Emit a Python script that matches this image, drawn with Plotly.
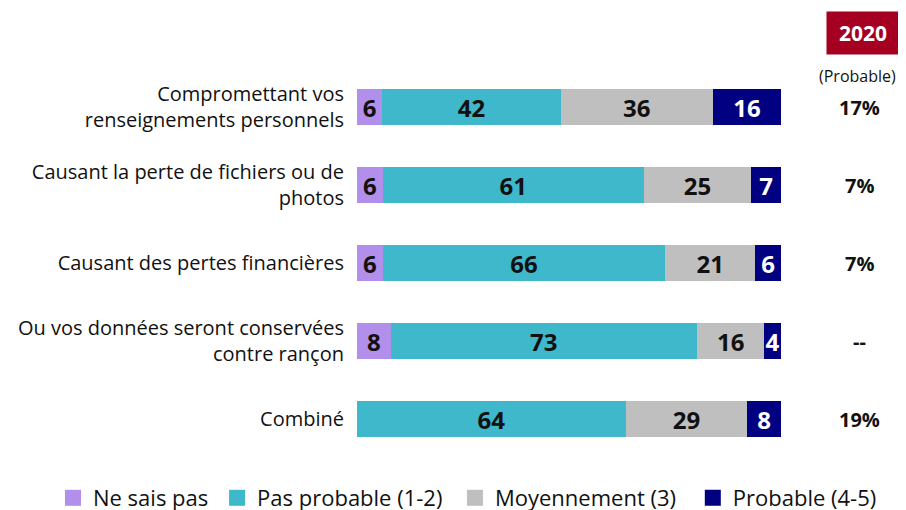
import plotly.graph_objects as go

categories = [
    "Compromettant vos<br>renseignements personnels",
    "Causant la perte de fichiers ou de<br>photos",
    "Causant des pertes financières",
    "Ou vos données seront conservées<br>contre rançon",
    "Combiné",
]
series_names = ["Ne sais pas", "Pas probable (1-2)", "Moyennement (3)", "Probable (4-5)"]
ne_sais_pas = [6, 6, 6, 8, 0]
pas_probable = [42, 61, 66, 73, 64]
moyennement = [36, 25, 21, 16, 29]
probable = [16, 7, 6, 4, 8]
probable_2020 = ["17%", "7%", "7%", "--", "19%"]
header_year = "2020"
header_sub = "(Probable)"

colors = ["#b28fea", "#3fb8cc", "#bfbfbf", "#000080"]
text_colors = ["#111111", "#111111", "#111111", "#ffffff"]
FONT = "Open Sans, Liberation Sans, sans-serif"

legend_ids = ["legend", "legend2", "legend3", "legend4"]
legend_x = [-0.717, -0.330, 0.231, 0.792]

fig = go.Figure()
for name, vals, col, tcol in zip(series_names, [ne_sais_pas, pas_probable, moyennement, probable], colors, text_colors):
    fig.add_trace(go.Bar(
        y=categories, x=vals, orientation="h", name=name,
        marker=dict(color=col, line=dict(width=0)),
        text=[str(v) if v else "" for v in vals],
        textposition="inside", insidetextanchor="middle", textangle=0,
        constraintext="none",
        textfont=dict(family=FONT, size=24, color=tcol, weight="bold"),
        showlegend=False, hoverinfo="skip",
    ))
for name, col, lid in zip(series_names, colors, legend_ids):
    fig.add_trace(go.Scatter(
        x=[None], y=[None], mode="markers", name=name,
        marker=dict(symbol="square", size=17, color=col),
        showlegend=True, legend=lid,
    ))

for cat, v in zip(categories, probable_2020):
    fig.add_annotation(x=1.1863, xref="paper", xanchor="center", y=cat, yref="y", text=f"<b>{v}</b>",
                       showarrow=False, font=dict(family=FONT, size=20, color="#111111"))

fig.add_annotation(x=1.1934, xref="paper", xanchor="center", y=1.0897, yref="paper", yanchor="middle",
                   text=f"<b>{header_year}</b>",
                   showarrow=False, bgcolor="#a50021", width=70, height=40,
                   font=dict(family=FONT, size=21, color="#ffffff"))
fig.add_annotation(x=1.1804, xref="paper", xanchor="center", y=0.979, yref="paper", yanchor="middle",
                   text=header_sub,
                   showarrow=False, font=dict(family=FONT, size=16, color="#111111"))

legend_common = dict(orientation="h", xanchor="left", yref="paper", y=-0.1026, yanchor="middle",
                     font=dict(family=FONT, size=22, color="#111111"), bgcolor="rgba(0,0,0,0)",
                     entrywidth=200, entrywidthmode="pixels")
layout_legends = {lid: dict(x=lx, **legend_common) for lid, lx in zip(legend_ids, legend_x)}

fig.update_layout(
    barmode="stack", barnorm="percent", bargap=0.54,
    width=898, height=502,
    margin=dict(l=349, r=125, t=60, b=52, autoexpand=False),
    plot_bgcolor="white", paper_bgcolor="white",
    font=dict(family=FONT, size=18, color="#111111"),
    xaxis=dict(visible=False, range=[0, 100], fixedrange=True),
    yaxis=dict(autorange="reversed", showgrid=False, showline=False, ticks="",
               ticklabelstandoff=12, tickfont=dict(size=20, color="#111111")),
    **layout_legends,
)

fig.write_html("out.html")
